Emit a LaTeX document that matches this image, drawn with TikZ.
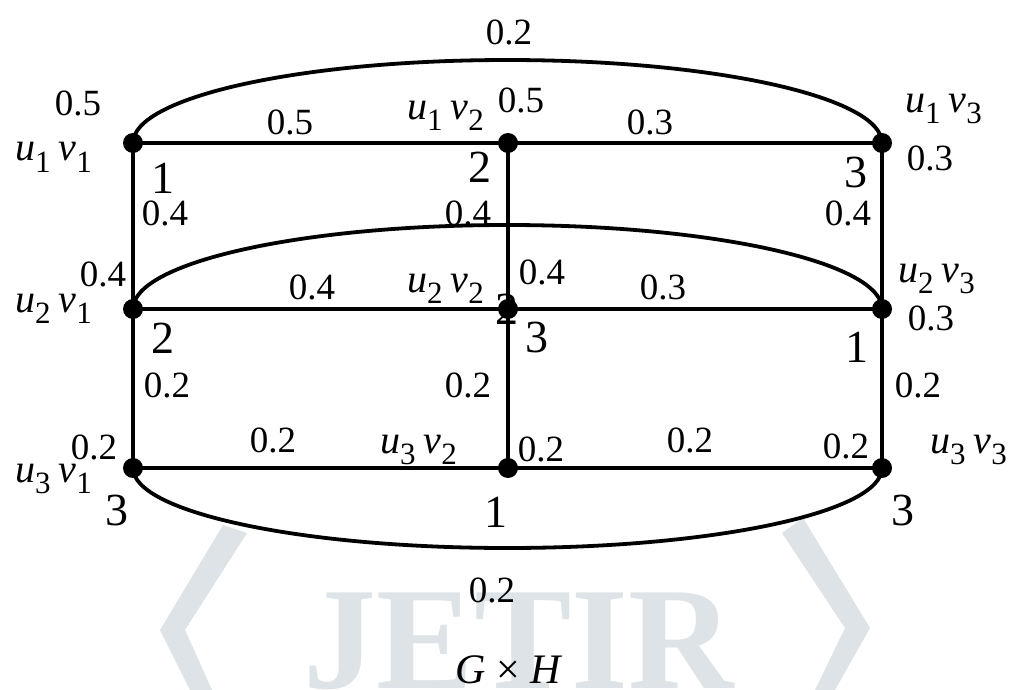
\documentclass[tikz,border=0pt]{standalone}
\usepackage{fontspec}
\setmainfont{Liberation Serif}
\newcommand\lbluv[2]{\textit{u}\raisebox{-11pt}{\fontsize{31}{31}\selectfont #1}\hspace{8pt}\textit{v}\raisebox{-11pt}{\fontsize{31}{31}\selectfont #2}}
\definecolor{wmgray}{HTML}{DDE3E7}
\begin{document}
\begin{tikzpicture}[x=1pt,y=-1pt,
  dot/.style={circle,fill=black,inner sep=0pt,minimum size=20pt},
  edge/.style={line width=3.8pt},
  wt/.style={font=\fontsize{37}{37}\selectfont,inner sep=0pt},
  num/.style={font=\fontsize{46}{46}\selectfont,inner sep=0pt},
  vlab/.style={font=\fontsize{40}{40}\selectfont,inner sep=0pt,anchor=base west},
  wm/.style={fill=wmgray,draw=none}]
\useasboundingbox[fill=white] (0,0) rectangle (1010,690);
% watermark
\fill[wm] (223,525) -- (247,533) -- (185,630) -- (212,690) -- (190,690) -- (160,630) -- cycle;
\fill[wm] (782,533) -- (803,518) -- (870,628) -- (835,690) -- (815,690) -- (845,628) -- cycle;
\node[inner sep=0pt,anchor=base,text=wmgray,font=\bfseries\fontsize{146}{146}\selectfont] (wmtext) at (519,688) {JETIR};
% vertices
\coordinate (p11) at (133,143); \coordinate (p12) at (508,143); \coordinate (p13) at (882,143);
\coordinate (p21) at (133,309); \coordinate (p22) at (508,309); \coordinate (p23) at (882,309);
\coordinate (p31) at (133,468); \coordinate (p32) at (508,468); \coordinate (p33) at (882,468);
% edges
\draw[edge] (p11) -- (p12) -- (p13);
\draw[edge] (p21) -- (p22) -- (p23);
\draw[edge] (p31) -- (p32) -- (p33);
\draw[edge] (p11) -- (p21) -- (p31);
\draw[edge] (p12) -- (p22) -- (p32);
\draw[edge] (p13) -- (p23) -- (p33);
\draw[edge] (p11) arc[start angle=180,end angle=0,x radius=374.5pt,y radius=83pt];
\draw[edge] (p21) arc[start angle=180,end angle=0,x radius=374.5pt,y radius=84pt];
\draw[edge] (p31) arc[start angle=180,end angle=360,x radius=374.5pt,y radius=80pt];
% hidden number under u2v2
\node[num] (n22h) at (507,309) {2};
% dots
\foreach \p in {p11,p12,p13,p21,p22,p23,p31,p32,p33}
  \node[dot] (d\p) at (\p) {};
% vertex labels
\node[vlab] (l11) at (15,161) {\lbluv{1}{1}};
\node[vlab] (l12) at (407,120) {\lbluv{1}{2}};
\node[vlab] (l13) at (905,113) {\lbluv{1}{3}};
\node[vlab] (l21) at (15,312) {\lbluv{2}{1}};
\node[vlab] (l22) at (407,292) {\lbluv{2}{2}};
\node[vlab] (l23) at (898,282) {\lbluv{2}{3}};
\node[vlab] (l31) at (15,482) {\lbluv{3}{1}};
\node[vlab] (l32) at (380,453) {\lbluv{3}{2}};
\node[vlab] (l33) at (930,453) {\lbluv{3}{3}};
% weights
\node[wt] (w1) at (509,32) {0.2};
\node[wt] (w2) at (78,103) {0.5};
\node[wt] (w3) at (290,122) {0.5};
\node[wt] (w4) at (521,100) {0.5};
\node[wt] (w5) at (650,122) {0.3};
\node[wt] (w6) at (930,158) {0.3};
\node[wt] (w7) at (165,213) {0.4};
\node[wt] (w8) at (468,213) {0.4};
\node[wt] (w9) at (848,213) {0.4};
\node[wt] (w10) at (103,274) {0.4};
\node[wt] (w11) at (312,287) {0.4};
\node[wt] (w12) at (542,272) {0.4};
\node[wt] (w13) at (663,287) {0.3};
\node[wt] (w14) at (931,318) {0.3};
\node[wt] (w15) at (167,385) {0.2};
\node[wt] (w16) at (468,385) {0.2};
\node[wt] (w17) at (918,385) {0.2};
\node[wt] (w18) at (94,447) {0.2};
\node[wt] (w19) at (273,440) {0.2};
\node[wt] (w20) at (541,449) {0.2};
\node[wt] (w21) at (690,440) {0.2};
\node[wt] (w22) at (846,446) {0.2};
\node[wt] (w23) at (492,590) {0.2};
% node numbers
\node[num] (n11) at (163,178) {1};
\node[num] (n12) at (480,167) {2};
\node[num] (n13) at (856,172) {3};
\node[num] (n21) at (163,338) {2};
\node[num] (n22) at (537,337) {3};
\node[num] (n23) at (857,347) {1};
\node[num] (n31) at (117,510) {3};
\node[num] (n32) at (496,512) {1};
\node[num] (n33) at (903,510) {3};
% caption
\node[inner sep=0pt,font=\fontsize{42}{42}\selectfont] (cap) at (509,670) {\textit{G} × \textit{H}};
\end{tikzpicture}
\end{document}
